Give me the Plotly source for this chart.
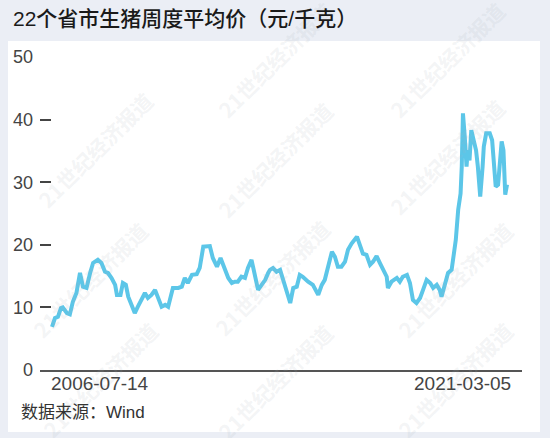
import pandas as pd
import plotly.graph_objects as go

# weeks since 2006-07-14 and weekly average price (yuan/kg)
start_date = "2006-07-14"
end_date = "2021-03-05"
weeks = [0, 5, 10, 15, 18, 25, 30, 35, 41, 47, 52, 58, 64, 69, 77, 83, 89, 94, 100, 106,
         109, 115, 119, 124, 128, 134, 139, 144, 151, 156, 161, 167, 173, 178, 184, 190, 195, 203, 212, 218,
         223, 228, 235, 243, 248, 254, 260, 265, 270, 277, 283, 289, 296, 302, 307, 312, 318, 324, 329, 335,
         341, 346, 352, 358, 363, 366, 371, 377, 383, 388, 394, 400, 405, 411, 416, 421, 430, 438, 447, 453,
         458, 463, 470, 475, 480, 486, 492, 497, 503, 512, 517, 522, 528, 534, 539, 545, 551, 556, 562, 564,
         570, 579, 584, 589, 596, 601, 606, 612, 618, 623, 629, 635, 640, 646, 651, 654, 660, 665, 671, 675,
         678, 682, 686, 688, 690, 693, 696, 698, 701, 704, 707, 712, 715, 719, 723, 725, 729, 735, 739, 742,
         745, 749, 752, 755, 758, 761, 764]
prices = [6.9, 8.3, 8.5, 9.9, 10.0, 9.1, 8.9, 10.9, 12.3, 15.5, 13.3, 13.1, 15.5, 17.1, 17.6, 17.1, 15.7, 15.5, 14.7, 13.6,
          12.0, 12.0, 13.9, 13.6, 11.7, 10.1, 9.1, 10.1, 11.5, 12.3, 11.5, 12.0, 12.8, 11.5, 10.1, 10.4, 10.1, 13.1, 13.1, 13.3,
          14.7, 13.9, 15.2, 15.3, 16.3, 19.7, 19.7, 19.8, 17.9, 16.5, 17.9, 16.3, 14.7, 13.9, 14.1, 14.1, 14.9, 14.7, 16.3, 17.6,
          15.2, 12.8, 13.6, 14.4, 15.5, 16.0, 16.3, 15.7, 16.0, 14.4, 12.5, 10.7, 13.1, 13.3, 15.2, 14.9, 14.1, 13.6, 12.0, 13.6,
          14.4, 16.5, 18.9, 18.1, 16.5, 16.5, 17.3, 19.2, 20.2, 21.3, 20.0, 18.6, 18.4, 16.8, 17.3, 18.2, 17.0, 16.0, 14.9, 13.1,
          14.1, 14.7, 14.1, 14.9, 15.2, 13.9, 11.2, 10.7, 11.5, 12.8, 14.4, 13.9, 13.1, 13.6, 12.8, 11.7, 13.9, 15.5, 16.0, 18.6,
          20.8, 25.6, 28.2, 32.5, 41.0, 37.3, 32.5, 35.1, 33.5, 38.3, 37.3, 35.1, 32.5, 27.7, 32.5, 35.7, 37.8, 37.8, 36.7, 32.5,
          29.3, 29.6, 33.5, 36.5, 35.1, 28.0, 29.6]
y_ticks = [0, 10, 20, 30, 40, 50]
x_tick_labels = ["2006-07-14", "2021-03-05"]
title_text = "22个省市生猪周度平均价（元/千克）"
source_text = "数据来源：Wind"
watermark_text = "21世纪经济报道"

dates = pd.to_datetime(start_date) + pd.to_timedelta([w * 7 for w in weeks], unit="D")

FONT = "Liberation Sans, Arial, Noto Sans CJK SC, sans-serif"
BG = "#ebeef5"
L, R, T, B = 40, 28, 57, 68
W, H = 550, 438
pw, ph = W - L - R, H - T - B

def px_x(p):
    return (p - L) / pw

def px_y(p):
    return (H - B - p) / ph

fig = go.Figure()
fig.add_trace(go.Scatter(x=dates, y=prices, mode="lines",
                         line=dict(color="#5cc6e8", width=4, shape="linear"),
                         hoverinfo="skip", showlegend=False))

# white panel
fig.add_shape(type="rect", xref="paper", yref="paper",
              x0=px_x(8), x1=px_x(540), y0=px_y(432), y1=px_y(41),
              fillcolor="white", line=dict(width=0), layer="below")

annotations = []
# watermarks
wm_pos = [(95, 150), (90, 280), (100, 380), (275, 60), (275, 160), (272, 278), (275, 382),
          (447, 60), (447, 157), (455, 280), (455, 380)]
for (wx, wy) in wm_pos:
    annotations.append(dict(text="<b>" + watermark_text + "</b>", xref="paper", yref="paper",
                            x=px_x(wx), y=px_y(wy), xanchor="center", yanchor="middle",
                            textangle=-45, showarrow=False,
                            font=dict(family="Noto Sans CJK SC", size=21, color="rgba(170,175,185,0.15)")))

annotations.append(dict(text=title_text, xref="paper", yref="paper", x=px_x(11), y=px_y(19),
                        xanchor="left", yanchor="middle", showarrow=False,
                        font=dict(family=FONT, size=21, color="#1a1a1a", weight=500)))
annotations.append(dict(text=source_text, xref="paper", yref="paper", x=px_x(19), y=px_y(412),
                        xanchor="left", yanchor="middle", showarrow=False,
                        font=dict(family=FONT, size=17, color="#333333")))
annotations.append(dict(text=x_tick_labels[0], xref="x", yref="paper", x=x_tick_labels[0], y=px_y(383),
                        xanchor="left", yanchor="middle", showarrow=False, xshift=-3,
                        font=dict(family=FONT, size=19, color="#444444")))
annotations.append(dict(text=x_tick_labels[1], xref="x", yref="paper", x=x_tick_labels[1], y=px_y(383),
                        xanchor="right", yanchor="middle", showarrow=False, xshift=6,
                        font=dict(family=FONT, size=19, color="#444444")))

fig.update_layout(
    width=W, height=H,
    margin=dict(l=L, r=R, t=T, b=B, pad=0),
    paper_bgcolor=BG, plot_bgcolor="rgba(0,0,0,0)",
    annotations=annotations,
    xaxis=dict(type="date", range=["2006-02-23", "2021-08-28"], showgrid=False, zeroline=False,
               showline=True, linecolor="#555555", linewidth=1.5, showticklabels=False, ticks=""),
    yaxis=dict(range=[0, 50], tickvals=y_ticks, showgrid=False, zeroline=False, showline=False,
               ticks="inside", ticklen=11, tickwidth=1.5, tickcolor="#444444",
               ticklabelstandoff=6,
               tickfont=dict(family=FONT, size=18, color="#444444")),
)

fig.write_html("out.html", config={"displayModeBar": False},
               post_script="document.body.style.margin='0';document.body.style.background='" + BG + "';")
